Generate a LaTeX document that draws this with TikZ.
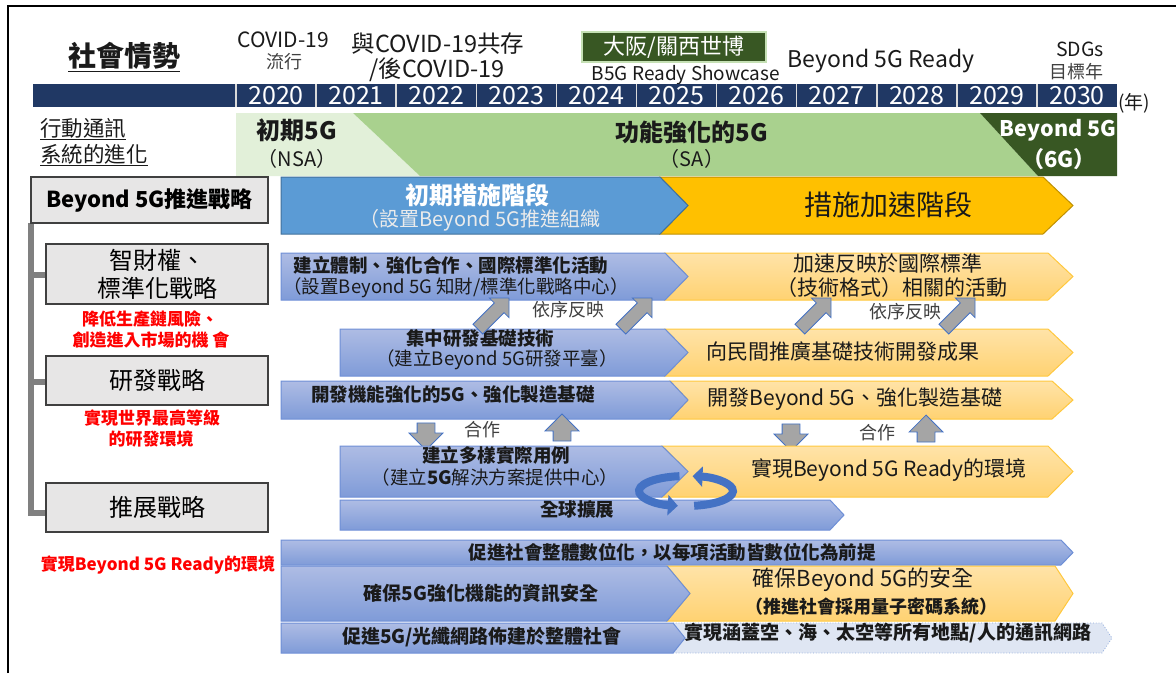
\documentclass[tikz,border=0pt]{standalone}
\usepackage{fontspec}
\setmainfont{Noto Sans CJK TC}
\usetikzlibrary{shapes.arrows,arrows.meta}
\definecolor{navy}{HTML}{203864}
\definecolor{palegreen}{HTML}{E2F0D9}
\definecolor{midgreen}{HTML}{A9D18E}
\definecolor{darkgreen}{HTML}{385723}
\definecolor{lightgreen}{HTML}{C5E0B4}
\definecolor{boxgrey}{HTML}{E7E6E6}
\definecolor{boxedge}{HTML}{404040}
\definecolor{bracketgrey}{HTML}{808080}
\definecolor{phaseblue}{HTML}{5B9BD5}
\definecolor{phaseblueedge}{HTML}{41719C}
\definecolor{phaseorange}{HTML}{FFC000}
\definecolor{phaseorangeedge}{HTML}{BF9000}
\definecolor{rowbluetop}{HTML}{AEBCE4}
\definecolor{rowbluebot}{HTML}{7F9BD8}
\definecolor{rowblueedge}{HTML}{6E8FD6}
\definecolor{roworangetop}{HTML}{FFE3A8}
\definecolor{roworangebot}{HTML}{FFD272}
\definecolor{roworangeedge}{HTML}{FFC83D}
\definecolor{palerow}{HTML}{DFE6F3}
\definecolor{palerowedge}{HTML}{8EA9DB}
\definecolor{arrowgrey}{HTML}{A5A5A5}
\definecolor{arrowedge}{HTML}{4472C4}
\definecolor{ringblue}{HTML}{4472C4}
\definecolor{redtext}{HTML}{FF0000}
\definecolor{textdark}{HTML}{1A1A1A}
\definecolor{yearsep}{HTML}{D9D9D9}
\newcommand{\fsz}[1]{\fontsize{#1}{#1}\selectfont}
\tikzset{
  lbl/.style={inner sep=0, text=textdark, align=center},
  rowblue/.style={top color=rowbluetop, bottom color=rowbluebot, draw=rowblueedge, line width=1},
  roworange/.style={top color=roworangetop, bottom color=roworangebot, draw=roworangeedge, line width=1},
  greybox/.style={draw=boxedge, fill=boxgrey, line width=1.5, inner sep=0, align=center},
  diagarrow/.style={single arrow, draw=arrowedge, fill=arrowgrey, line width=0.8,
    inner xsep=0, inner ysep=6.5, single arrow head extend=7, minimum height=44, rotate=45},
  vertarrow/.style={single arrow, draw=arrowedge, fill=arrowgrey, line width=0.8,
    inner xsep=0, inner ysep=8.5, single arrow head extend=8, minimum height=27},
  ring/.style={ringblue, line width=8, -{Triangle[length=10pt,width=20pt]}},
}
\begin{document}
\begin{tikzpicture}[x=1pt,y=-1pt]
\useasboundingbox (0,0) rectangle (1176,673);
% frame
\draw[line width=1.5] (8,673) -- (8,6) -- (1176,6);

% header texts
\node[lbl,font=\fsz{28}\bfseries] (social) at (124,57) {\underline{社會情勢}};
\node[lbl,font=\fsz{21}] (covid) at (283,40) {COVID-19};
\node[lbl,font=\fsz{18},text=black!75] (covidb) at (284,62) {流行};
\node[lbl,font=\fsz{23.5}] (with) at (438,44) {與COVID-19共存};
\node[lbl,font=\fsz{23.5}] (post) at (437,70) {/後COVID-19};
\node[draw=lightgreen,fill=darkgreen,line width=1.5,minimum width=184,minimum height=30,inner sep=0,
  text=white,font=\fsz{22}] (osaka) at (674,47) {大阪/關西世博};
\node[lbl,font=\fsz{19}] (showcase) at (686,75) {B5G Ready Showcase};
\node[lbl,font=\fsz{23}] (ready) at (881,61) {Beyond 5G Ready};
\node[lbl,font=\fsz{19.5}] (sdgs) at (1080,49) {SDGs};
\node[lbl,font=\fsz{18},text=black!75] (sdgsb) at (1076,72) {目標年};

% year bar
\fill[navy] (33,84) rectangle (1117,107);
\foreach \k/\yr in {0/2020,1/2021,2/2022,3/2023,4/2024,5/2025,6/2026,7/2027,8/2028,9/2029,10/2030}{
  \pgfmathsetmacro{\xa}{236+80.1*\k}
  \pgfmathsetmacro{\xc}{276+80.1*\k}
  \draw[yearsep,line width=1.5] (\xa,84) -- (\xa,107);
  \node[lbl,text=white,font=\fsz{25}] (year\k) at (\xc,96) {\yr};
}
\node[lbl,font=\fsz{19}] (nian) at (1134,103) {(年)};

% evolution
\node[lbl,font=\fsz{21.5},anchor=west] (evoa) at (40,129) {\underline{行動通訊}};
\node[lbl,font=\fsz{21.5},anchor=west] (evob) at (40,155) {\underline{系統的進化}};
\fill[palegreen] (236,113) -- (353,113) -- (420,176) -- (236,176) -- cycle;
\fill[midgreen] (353,113) -- (980,113) -- (1038,176) -- (420,176) -- cycle;
\fill[darkgreen] (980,113) -- (1117,113) -- (1117,176) -- (1038,176) -- cycle;
\node[lbl,font=\fsz{24}\bfseries] (init5g) at (297,130) {初期5G};
\node[lbl,font=\fsz{20}] (nsa) at (297,159) {（NSA）};
\node[lbl,font=\fsz{24}\bfseries] (func5g) at (692,132) {功能強化的5G};
\node[lbl,font=\fsz{20}] (sa) at (692,159) {（SA）};
\node[lbl,font=\fsz{21.5}\bfseries,text=white] (b5g6) at (1058,130) {Beyond 5G};
\node[lbl,font=\fsz{22}\bfseries,text=white] (sixg) at (1059,159) {（6G）};

% left column
\draw[bracketgrey,line width=6] (31,223) -- (31,513) -- (46,513);
\draw[bracketgrey,line width=6] (31,275) -- (46,275);
\draw[bracketgrey,line width=6] (31,382) -- (46,382);
\node[greybox,minimum width=237,minimum height=46,font=\fsz{22}\bfseries] (strat) at (149.5,200) {Beyond 5G推進戰略};
\node[greybox,minimum width=222,minimum height=60,font=\fsz{24}] (ipr) at (157,274) {智財權、\\[4pt]標準化戰略};
\node[lbl,font=\fsz{17}\bfseries,text=redtext] (ipra) at (150,319) {降低生產鏈風險、};
\node[lbl,font=\fsz{17}\bfseries,text=redtext] (iprb) at (151,340) {創造進入市場的機 會};
\node[greybox,minimum width=222,minimum height=49,font=\fsz{24}] (rnd) at (157,380.5) {研發戰略};
\node[lbl,font=\fsz{17}\bfseries,text=redtext] (rnda) at (152,418) {實現世界最高等級};
\node[lbl,font=\fsz{17}\bfseries,text=redtext] (rndb) at (151,439) {的研發環境};
\node[greybox,minimum width=222,minimum height=49,font=\fsz{24}] (deploy) at (157,507.5) {推展戰略};
\node[lbl,font=\fsz{17}\bfseries,text=redtext] (deploya) at (158,565) {實現Beyond 5G Ready的環境};

% phase arrows
\draw[fill=phaseorange,draw=phaseorangeedge,line width=1] (660,177) -- (1043,177) -- (1073,205.5) -- (1043,234) -- (660,234) -- (688,205.5) -- cycle;
\draw[fill=phaseblue,draw=phaseblueedge,line width=1] (281,177) -- (660,177) -- (688,205.5) -- (660,234) -- (281,234) -- cycle;
\node[lbl,text=white,font=\fsz{24}\bfseries] (ph1a) at (477,195) {初期措施階段};
\node[lbl,text=white!92!black,font=\fsz{20}] (ph1b) at (480,220) {（設置Beyond 5G推進組織};
\node[lbl,font=\fsz{28}] (ph2) at (888,205) {措施加速階段};

% row 1
\path[roworange] (665,253) -- (1048,253) -- (1073,276.5) -- (1048,300) -- (665,300) -- (688,276.5) -- cycle;
\path[rowblue] (281,253) -- (665,253) -- (688,276.5) -- (665,300) -- (281,300) -- cycle;
\node[lbl,font=\fsz{18.5}\bfseries] (r1a) at (451,265) {建立體制、強化合作、國際標準化活動};
\node[lbl,font=\fsz{18.5}] (r1b) at (456,288) {（設置Beyond 5G 知財/標準化戰略中心）};
\node[lbl,font=\fsz{21}] (o1a) at (888,263) {加速反映於國際標準};
\node[lbl,font=\fsz{21}] (o1b) at (892,288) {（技術格式）相關的活動};

% row 2
\path[roworange] (665,329) -- (1048,329) -- (1073,352.5) -- (1048,376) -- (665,376) -- (688,352.5) -- cycle;
\path[rowblue] (340,329) -- (665,329) -- (688,352.5) -- (665,376) -- (340,376) -- cycle;
\node[lbl,font=\fsz{18.5}\bfseries] (r2a) at (480,338) {集中研發基礎技術};
\node[lbl,font=\fsz{18.5}] (r2b) at (497,360) {（建立Beyond 5G研發平臺）};
\node[lbl,font=\fsz{21}] (o2) at (843,352) {向民間推廣基礎技術開發成果};

% sequential reflection arrows
\node[diagarrow] (sa1) at (491,316) {};
\node[diagarrow] (sa2) at (634,316) {};
\node[diagarrow] (sa3) at (813,316) {};
\node[diagarrow] (sa4) at (957,316) {};
\node[lbl,font=\fsz{18},text=black!75] (seq1) at (568,310) {依序反映};
\node[lbl,font=\fsz{18},text=black!75] (seq2) at (905,312) {依序反映};

% row 3
\path[roworange] (670,381) -- (1052,381) -- (1073,400) -- (1052,419) -- (670,419) -- (688,400) -- cycle;
\path[rowblue] (281,381) -- (670,381) -- (688,400) -- (670,419) -- (281,419) -- cycle;
\node[lbl,font=\fsz{18.5}\bfseries] (r3) at (453,395) {開發機能強化的5G、強化製造基礎};
\node[lbl,font=\fsz{21}] (o3) at (855,399) {開發Beyond 5G、強化製造基礎};

% cooperation arrows
\node[vertarrow,rotate=-90] (ca1) at (426,432) {};
\node[vertarrow,rotate=90] (ca2) at (562,432) {};
\node[vertarrow,rotate=-90] (ca3) at (791,433) {};
\node[vertarrow,rotate=90] (ca4) at (926,433) {};
\node[lbl,font=\fsz{18},text=black!75] (coop1) at (482,430) {合作};
\node[lbl,font=\fsz{18},text=black!75] (coop2) at (877,433) {合作};

% row 4
\path[roworange] (662,446) -- (1048,446) -- (1073,471.5) -- (1048,497) -- (662,497) -- (688,471.5) -- cycle;
\path[rowblue] (340,446) -- (662,446) -- (688,471.5) -- (662,497) -- (340,497) -- cycle;
\node[lbl,font=\fsz{18.5}\bfseries] (r4a) at (496,455) {建立多樣實際用例};
\node[lbl,font=\fsz{18.5}] (r4b) at (495,477) {（建立\textbf{5G}解決方案提供中心）};
\node[lbl,font=\fsz{21}] (o4) at (889,470) {實現Beyond 5G Ready的環境};

% row 5
\path[rowblue] (340,500) -- (830,500) -- (844,515) -- (830,530) -- (340,530) -- cycle;
\node[lbl,font=\fsz{18.5}\bfseries] (r5) at (577,509) {全球擴展};

% rotating arrows
\draw[ring] (686,491) ++(262:47 and 15) arc[start angle=262,end angle=100,x radius=47,y radius=15];
\draw[ring] (686,491) ++(80:47 and 15) arc[start angle=80,end angle=-82,x radius=47,y radius=15];

% bottom rows
\path[rowblue] (281,540) -- (1061,540) -- (1073,552.5) -- (1061,565) -- (281,565) -- cycle;
\node[lbl,font=\fsz{18.5}\bfseries] (ba) at (672,552) {促進社會整體數位化，以每項活動皆數位化為前提};
\path[roworange] (667,566) -- (1055,566) -- (1073,593.5) -- (1055,621) -- (667,621) -- (690,593.5) -- cycle;
\path[rowblue] (281,566) -- (667,566) -- (690,593.5) -- (667,621) -- (281,621) -- cycle;
\node[lbl,font=\fsz{19}\bfseries] (bb) at (481,593) {確保5G強化機能的資訊安全};
\node[lbl,font=\fsz{22}] (bo1) at (863,580) {確保Beyond 5G的安全};
\node[lbl,font=\fsz{18}\bfseries] (bo2) at (871,607) {（推進社會採用量子密碼系統）};
\path[fill=palerow,draw=palerowedge,line width=0.8,dotted] (673,623) -- (1102,623) -- (1112,638) -- (1102,653) -- (673,653) -- (685,638) -- cycle;
\path[rowblue] (281,623) -- (673,623) -- (685,638) -- (673,653) -- (281,653) -- cycle;
\node[lbl,font=\fsz{19}\bfseries] (bc) at (482,637) {促進5G/光纖網路佈建於整體社會};
\node[lbl,font=\fsz{19}\bfseries] (bp) at (888,633) {實現涵蓋空、海、太空等所有地點/人的通訊網路};
\end{tikzpicture}
\end{document}
